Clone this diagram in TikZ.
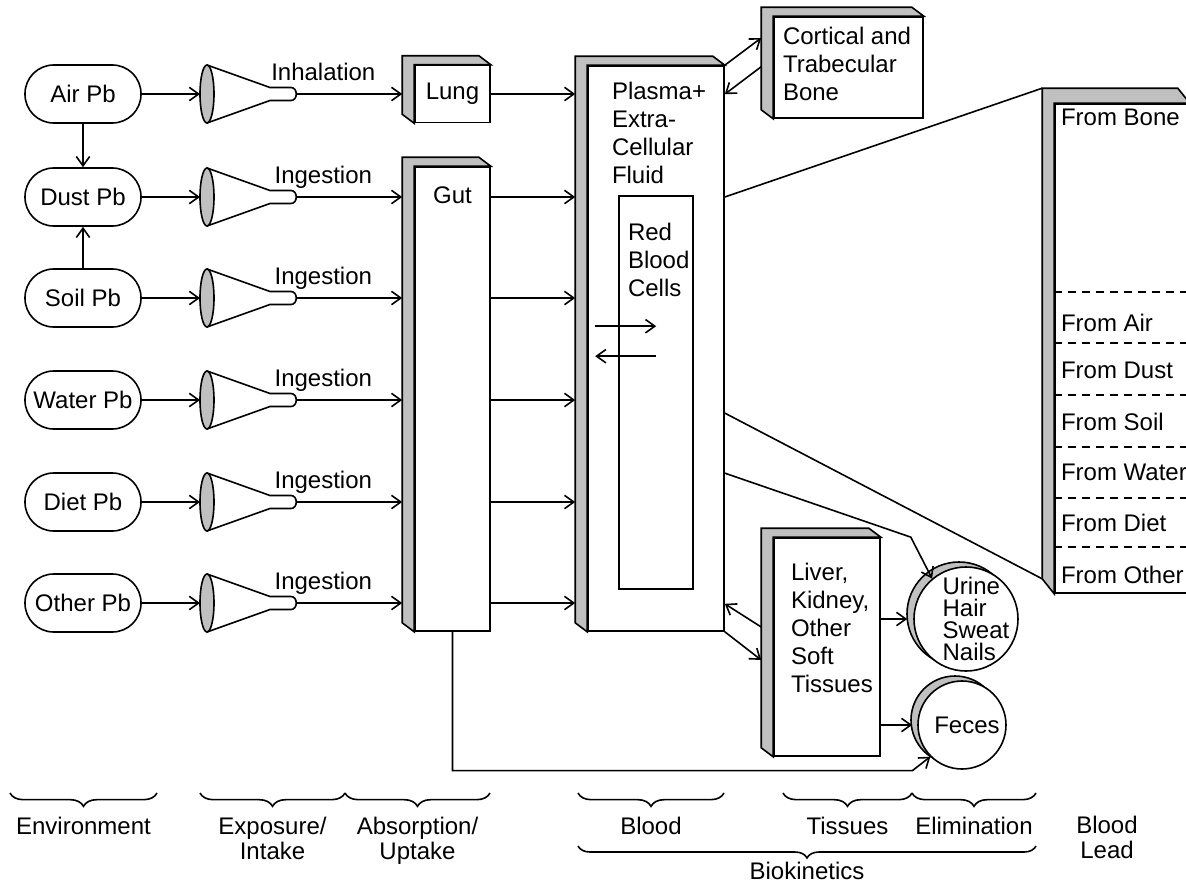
\documentclass[tikz,border=0pt]{standalone}
\usepackage{fontspec}
\setmainfont{Liberation Sans}
\usetikzlibrary{arrows.meta,calc,positioning,shadows,decorations.pathreplacing}
\definecolor{slabgray}{RGB}{192,192,192}
\tikzset{
  pool/.style={ % environmental lead source
    draw, rectangle, rounded corners=21.5pt,
    minimum width=87pt, minimum height=43.5pt, inner sep=1pt
  },
  face/.style={ % front face of a compartment
    draw, fill=white, inner sep=0pt
  },
  sink/.style={ % elimination route
    draw, circle, fill=white, inner sep=0pt,
    drop shadow={shadow xshift=-5.25pt, shadow yshift=3.75pt,
      fill=slabgray, draw=black, opacity=1}
  },
  tag/.style={inner sep=0pt, align=left},
  stage/.style={align=center, font=\fontsize{18}{19}\selectfont},
  group/.style={decorate, decoration={brace, mirror, amplitude=#1}},
  group/.default=10pt,
  funnel/.pic={ % intake route
    \draw[fill=slabgray] (0,0) ellipse [x radius=7, y radius=29];
    \draw (0,-29) -- (63,-6.5) -- (84,-6.5)
      .. controls (91,-6.5) and (91,6.5) .. (84,6.5) -- (63,6.5) -- (0,29);
    \coordinate (-in) at (-7,0);
    \coordinate (-out) at (90,0);
  }
}
% grey side and top of compartment #2, depth #1
\newcommand{\slab}[2][9]{%
  \draw[fill=slabgray] (#2.south west) -- ++(-12,-#1)
    -- ($(#2.north west)+(-12,-#1)$) -- ($(#2.north east)+(-12,-#1)$)
    -- (#2.north east) -- (#2.north west) -- cycle;
  \coordinate (#2-bnw) at ($(#2.north west)+(-12,-#1)$);
  \coordinate (#2-bsw) at ($(#2.south west)+(-12,-#1)$);
}
\begin{document}
\begin{tikzpicture}[x=0.75pt, y=-0.75pt, line width=1.2pt,
    >={Straight Barb[length=7pt,width=10pt]},
    font=\fontsize{18}{21}\selectfont]
  \useasboundingbox (0,0) rectangle (1186,882);
  \clip (0,0) rectangle (1186,882);

  % environment and intake
  \node[pool] (air) at (83,94) {Air Pb};
  \pic (fair) at (207,94) {funnel};
  \foreach \src/\lbl/\ypos in {dust/Dust/197, soil/Soil/298, water/Water/400,
      diet/Diet/502, other/Other/603}{
    \node[pool] (\src) at (83,\ypos) {\lbl\ Pb};
    \pic (f\src) at (207,\ypos) {funnel};
  }
  \draw[->] (air) -- (dust);
  \draw[->] (soil) -- (dust);

  % compartments
  \node[face, minimum width=56.25pt, minimum height=42.75pt] (lung) at (452.5,94) {Lung};
  \slab{lung}
  \node[face, minimum width=56.25pt, minimum height=348pt,
    label={[tag, anchor=north, yshift=-15pt]north:Gut}] (gut) at (452.5,399) {};
  \slab{gut}
  \node[face, minimum width=102pt, minimum height=423.75pt,
    label={[tag, anchor=north west, xshift=18pt, yshift=-12pt]north west:Plasma+\\Extra-\\Cellular\\Fluid}]
    (plasma) at (656,348.5) {};
  \slab{plasma}
  \node[face, minimum width=55.5pt, minimum height=294.75pt,
    label={[tag, anchor=north west, xshift=6.75pt, yshift=-20.25pt]north west:Red\\Blood\\Cells}]
    (rbc) at (656,392.5) {};
  \node[face, minimum width=111.75pt, minimum height=75.75pt,
    label={[tag, anchor=north west, xshift=6.75pt, yshift=-7.5pt]north west:Cortical and\\Trabecular\\Bone}]
    (bone) at (848.5,67.5) {};
  \slab{bone}
  \node[face, minimum width=79.5pt, minimum height=163.5pt,
    label={[tag, anchor=north west, xshift=12.75pt, yshift=-18.75pt]north west:Liver,\\Kidney,\\Other\\Soft\\Tissues}]
    (liver) at (827,647) {};
  \slab{liver}
  \node[sink, minimum size=78pt,
    label={[tag, anchor=center, xshift=7.5pt, font=\fontsize{18}{16.3}\selectfont]center:Urine\\Hair\\Sweat\\Nails}]
    (urine) at (966,619) {};
  \node[sink, minimum size=66pt,
    label={[tag, anchor=center, xshift=3.75pt]center:Feces}] (feces) at (962,725) {};

  % blood lead
  \node[face, minimum width=100.5pt, minimum height=366.75pt] (lead) at (1122,348.5) {};
  \slab[15]{lead}
  \foreach \ypos in {292,343,395,447,498,547}
    \draw[dash pattern=on 6pt off 4.5pt] (lead.west |- 0,\ypos) -- (lead.east |- 0,\ypos);
  \foreach \src/\ypos in {Bone/117, Air/323, Dust/370, Soil/422, Water/472, Diet/523, Other/575}
    \node[tag, anchor=west] at ([xshift=4.5pt]lead.west |- 0,\ypos) {From \src};

  % flows
  \draw[->] (air) -- (fair-in);
  \draw[->] (fair-out) -- node[anchor=base, pos=.25, yshift=10.5pt] {Inhalation} (fair-out -| lung-bnw);
  \draw[->] (lung) -- (lung -| plasma-bnw);
  \foreach \src in {dust,soil,water,diet,other}{
    \draw[->] (\src) -- (f\src-in);
    \draw[->] (f\src-out) -- node[anchor=base, pos=.25, yshift=10.5pt] {Ingestion} (f\src-out -| gut-bnw);
    \draw[->] (gut.east |- f\src-out) -- (f\src-out -| plasma-bnw);
  }
  \draw[->] ([xshift=-17.25pt, yshift=-98.25pt]rbc.north west) -- ++(45.75pt,0);
  \draw[<-] ([xshift=-17.25pt, yshift=-120.75pt]rbc.north west) -- ++(45.75pt,0);
  \draw[->] (plasma.north east) -- ($(bone-bnw)!0.3!(bone-bsw)$);
  \draw[->] ($(bone-bnw)!0.58!(bone-bsw)$) -- ([yshift=-21.75pt]plasma.north east);
  \draw (plasma.east |- dust) -- (lead-bnw);
  \draw ($(plasma.north east)!0.614!(plasma.south east)$) -- (lead-bsw);
  \draw[->] ($(plasma.north east)!0.72!(plasma.south east)$) -- ++(186,64) -- (urine.130);
  \draw[->] (plasma.south east) -- ($(liver-bnw)!0.6!(liver-bsw)$);
  \draw[->] ($(liver-bnw)!0.45!(liver-bsw)$) -- ([yshift=21pt]plasma.south east);
  \draw[->] (liver.east |- urine.west) -- ([xshift=-4.5pt]urine.west);
  \draw[->] (liver.east |- feces.west) -- ([xshift=-3.75pt]feces.west);
  \draw[->] (gut.south) |- ([xshift=-13.5pt, yshift=-10.5pt]feces.south west) -- (feces.south west);

  % stages
  \draw[group] (10,793) -- node[stage, midway, below=14pt] {Environment} (157,793);
  \draw[group] (200,793) -- node[stage, midway, below=14pt] {Exposure/\\Intake} (345,793);
  \draw[group] (345,793) -- node[stage, midway, below=14pt] {Absorption/\\Uptake} (490,793);
  \draw[group] (578,793) -- node[stage, midway, below=14pt] {Blood} (724,793);
  \draw[group] (783,793) -- node[stage, midway, below=14pt] {Tissues} (912,793);
  \draw[group] (912,793) -- node[stage, midway, below=14pt] {Elimination} (1036,793);
  \draw[group=9pt] (578,846) -- node[stage, midway, below=8pt] {Biokinetics} (1036,846);
  \node[stage, anchor=north] at (1107,811) {Blood\\Lead};
\end{tikzpicture}
\end{document}
